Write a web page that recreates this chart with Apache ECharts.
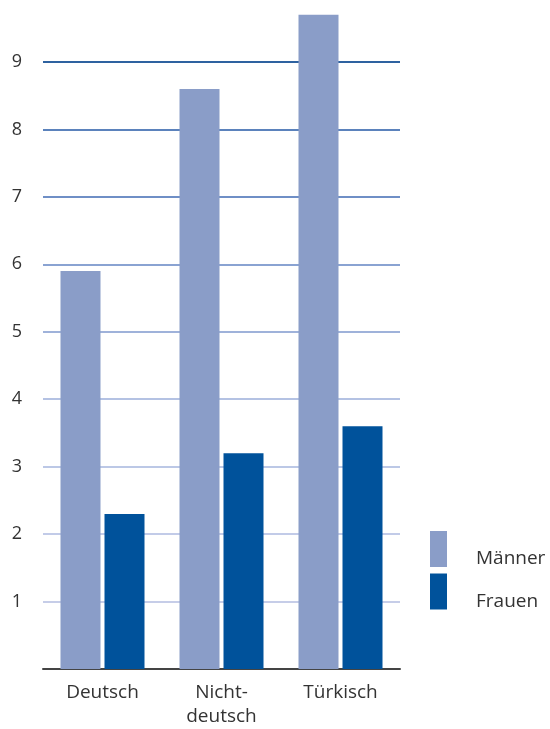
<!DOCTYPE html>
<html><head><meta charset="utf-8">
<script src="https://cdn.jsdelivr.net/npm/echarts@6/dist/echarts.min.js"></script>
<style>html,body{margin:0;padding:0;background:#fff}#c{width:550px;height:729px}</style>
</head><body><div id="c"></div>
<script>
const categories = ['Deutsch', 'Nicht-\ndeutsch', 'Türkisch'];
const maenner = [5.9, 8.6, 9.7];
const frauen = [2.3, 3.2, 3.6];
const seriesNames = ['Männer', 'Frauen'];
const yTicks = [0, 1, 2, 3, 4, 5, 6, 7, 8, 9];

const gridColors = ['#444444', '#c6cde8', '#c2cbe8', '#bcc8e6', '#b4c2e3', '#9fb2da', '#8aa3d2', '#6f8fc6', '#5b82bc', '#2e62a0'];
const font = 'Open Sans';
const chart = echarts.init(document.getElementById('c'), null, {renderer: 'canvas'});
chart.setOption({
  animation: false,
  textStyle: {fontFamily: font},
  grid: {left: 43, right: 150, top: 62, bottom: 53, containLabel: false},
  legend: {
    orient: 'vertical', left: 430, top: 531, padding: 0,
    itemWidth: 17, itemHeight: 36, itemGap: 5,
    icon: 'rect',
    formatter: '{t|{name}}',
    textStyle: {
      fontSize: 19, color: '#333', fontFamily: font,
      rich: {t: {fontSize: 19, color: '#333', fontFamily: font, padding: [20, 0, 0, 24]}}
    },
    data: seriesNames
  },
  xAxis: {
    type: 'category', data: categories,
    axisLine: {lineStyle: {color: '#444', width: 2}},
    axisTick: {show: false},
    axisLabel: {fontSize: 19, color: '#333', margin: 12, lineHeight: 24, fontFamily: font}
  },
  yAxis: {
    type: 'value', min: 0, max: 9, interval: 1,
    axisLine: {show: false}, axisTick: {show: false},
    axisLabel: {
      fontSize: 18, color: '#333', margin: 21, fontFamily: font,
      formatter: v => (v === 0 ? '' : String(v))
    },
    splitLine: {lineStyle: {color: gridColors, width: 2}}
  },
  series: [
    {name: seriesNames[0], type: 'bar', data: maenner, barWidth: 40, barGap: '10%', clip: false,
     itemStyle: {color: '#8a9dc8'}},
    {name: seriesNames[1], type: 'bar', data: frauen, barWidth: 40, clip: false,
     itemStyle: {color: '#00529b'}}
  ]
});
</script></body></html>
